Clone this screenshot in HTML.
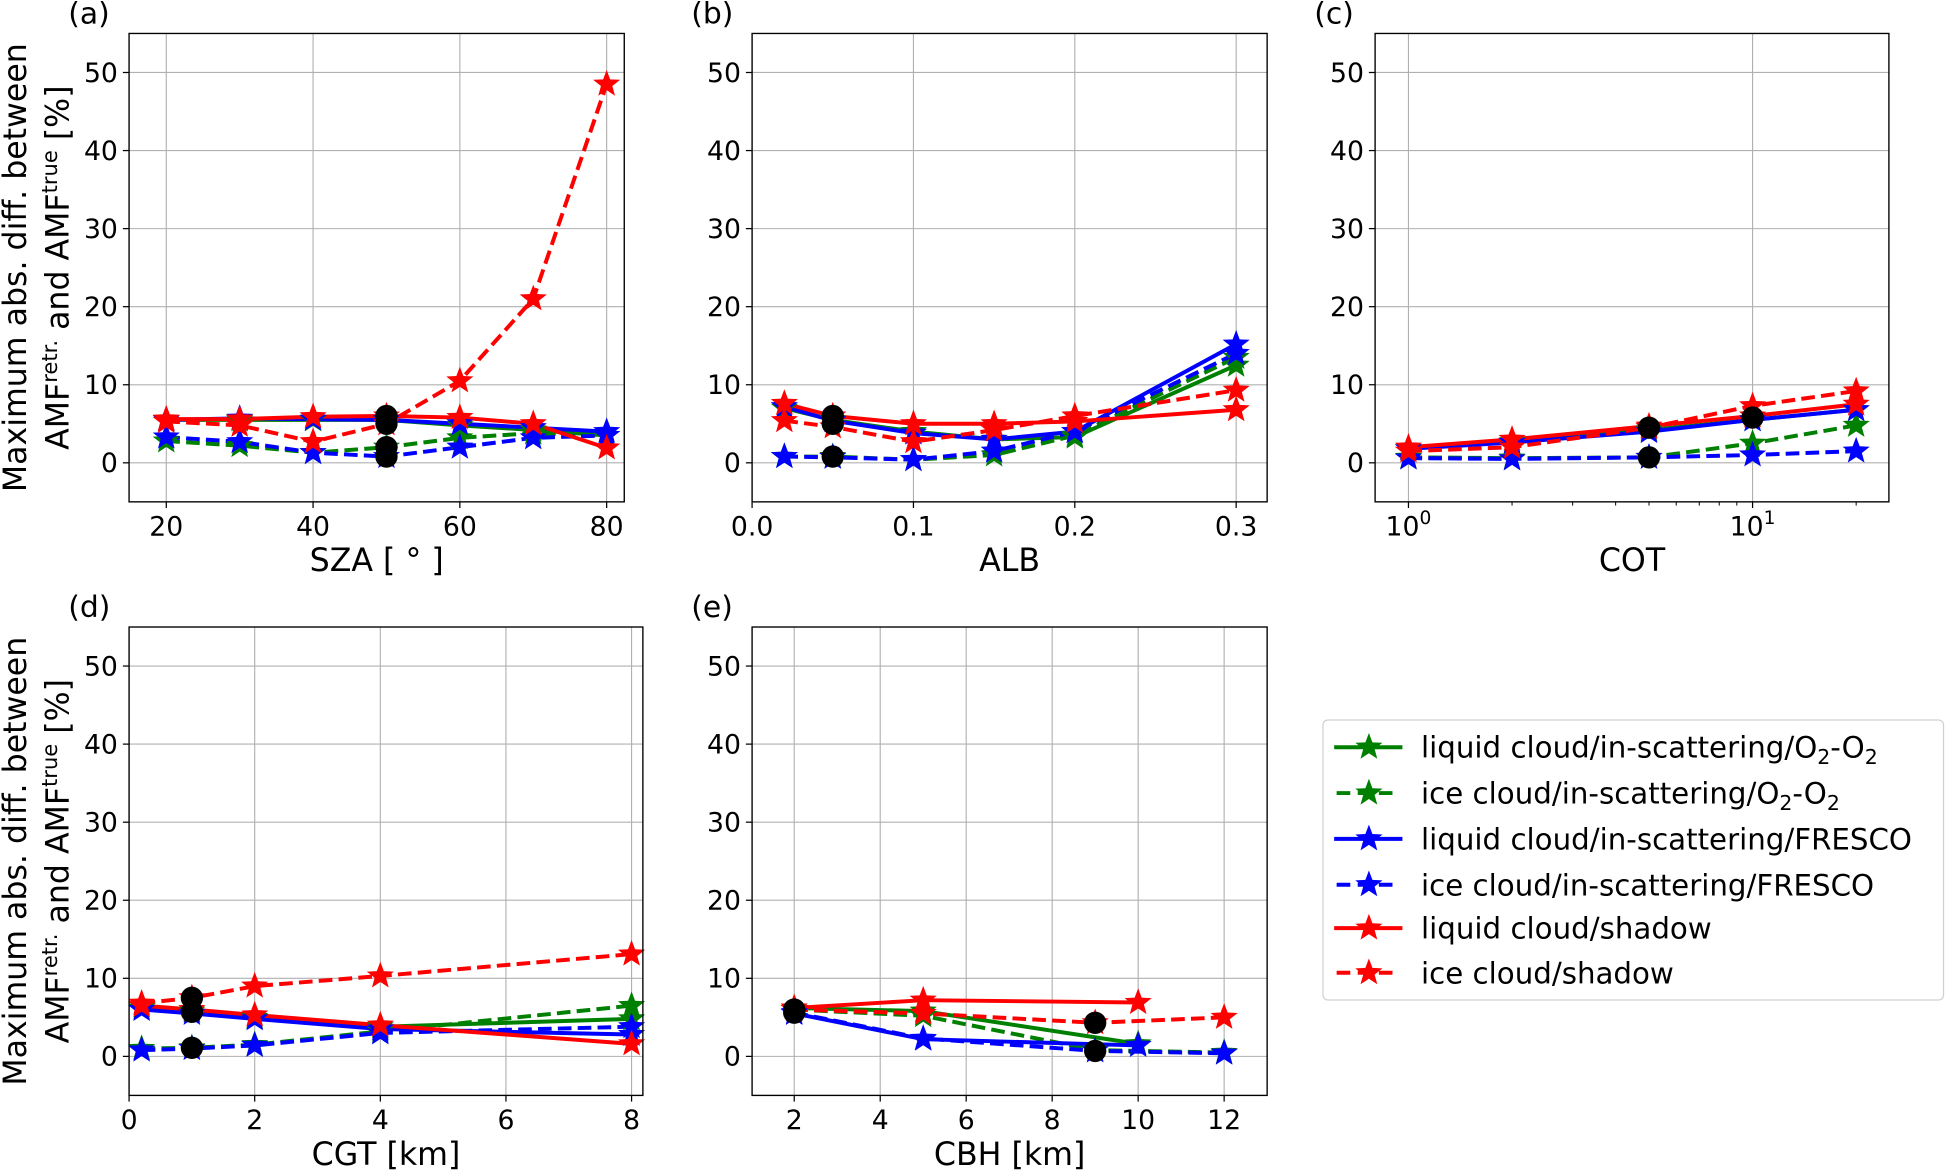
<!DOCTYPE html>
<html><head><meta charset="utf-8">
<style>
html,body{margin:0;padding:0;background:#fff;}
svg{display:block;font-family:"DejaVu Sans","Liberation Sans",sans-serif;}
</style></head>
<body>
<svg id="fig" width="1946" height="1171" viewBox="0 0 1568 945" preserveAspectRatio="none" xmlns="http://www.w3.org/2000/svg">
<rect width="1568" height="945" fill="#fff"/>
</svg>
<script>
// ---------- data ----------
const seriesNames = ["liquid cloud/in-scattering/O2-O2","ice cloud/in-scattering/O2-O2","liquid cloud/in-scattering/FRESCO","ice cloud/in-scattering/FRESCO","liquid cloud/shadow","ice cloud/shadow"];
const seriesColors = ["green","green","blue","blue","red","red"];
const seriesDashed = [false,true,false,true,false,true];

const szaX = [20,30,40,50,60,70,80];
const szaGreenSolid = [5.5,5.5,5.5,5.5,4.8,4.2,3.5];
const szaGreenDash = [2.8,2.2,1.3,2.0,3.2,3.8,3.5];
const szaBlueSolid = [5.5,5.7,5.6,5.5,5.0,4.5,4.0];
const szaBlueDash = [3.3,2.7,1.3,0.8,2.0,3.2,3.5];
const szaRedSolid = [5.6,5.6,5.9,6.0,5.8,5.0,1.9];
const szaRedDash = [5.3,4.8,2.7,5.0,10.5,21,48.5];
const szaRefX = [50,50,50,50];
const szaRefY = [6.0,5.0,2.0,0.8];

const albX = [0.02,0.05,0.1,0.15,0.2,0.3];
const albGreenSolid = [7.0,5.5,4.0,3.0,3.3,12.5];
const albGreenDash = [0.8,0.8,0.4,1.0,3.5,13.5];
const albBlueSolid = [7.2,5.4,3.8,3.0,4.0,15.2];
const albBlueDash = [0.8,0.7,0.4,1.5,4.0,14.0];
const albRedSolid = [7.6,6.0,5.0,5.0,5.3,6.8];
const albRedDash = [5.4,4.6,2.7,4.2,6.0,9.3];
const albRefX = [0.05,0.05,0.05];
const albRefY = [6.0,5.0,0.8];

const cotX = [1,2,5,10,20];
const cotGreenSolid = [1.8,2.7,4.2,5.5,6.8];
const cotGreenDash = [0.7,0.6,0.7,2.5,4.8];
const cotBlueSolid = [1.8,2.6,4.0,5.5,6.8];
const cotBlueDash = [0.6,0.5,0.7,1.0,1.5];
const cotRedSolid = [2.0,3.0,4.7,6.0,7.5];
const cotRedDash = [1.5,2.0,4.5,7.3,9.2];
const cotRefX = [5,5,10];
const cotRefY = [4.5,0.7,5.8];

const cgtX = [0.2,1,2,4,8];
const cgtGreenSolid = [6.2,5.8,5.0,3.8,4.8];
const cgtGreenDash = [1.0,1.1,1.5,3.2,6.5];
const cgtBlueSolid = [6.0,5.5,4.8,3.5,2.8];
const cgtBlueDash = [0.8,1.0,1.4,3.0,3.8];
const cgtRedSolid = [6.5,6.0,5.3,4.0,1.6];
const cgtRedDash = [6.8,7.5,9.0,10.3,13.1];
const cgtRefX = [1,1,1];
const cgtRefY = [7.5,5.7,1.1];

const cbhLiquidX = [2,5,10];
const cbhIceX = [2,5,9,12];
const cbhGreenSolid = [6.2,5.8,1.6];
const cbhGreenDash = [6.0,5.2,0.8,0.5];
const cbhBlueSolid = [5.5,2.2,1.4];
const cbhBlueDash = [5.6,2.3,0.7,0.4];
const cbhRedSolid = [6.2,7.2,6.9];
const cbhRedDash = [6.0,5.5,4.3,5.0];
const cbhRefX = [2,2,9,9];
const cbhRefY = [6.0,5.6,4.3,0.7];

const yTicks = [0,10,20,30,40,50];

// ---------- drawing ----------
const NS = "http://www.w3.org/2000/svg";
const svg = document.getElementById("fig");
function mk(tag, attrs, parent){
  const e = document.createElementNS(NS, tag);
  for (const k in attrs) e.setAttribute(k, attrs[k]);
  (parent||svg).appendChild(e);
  return e;
}
function starPts(cx, cy, r){
  const p=[];
  for(let i=0;i<10;i++){
    const a = -Math.PI/2 + i*Math.PI/5;
    const rr = i%2===0 ? r : r*0.42;
    p.push((cx+rr*Math.cos(a)).toFixed(2)+","+(cy+rr*Math.sin(a)).toFixed(2));
  }
  return p.join(" ");
}

function panel(cfg){
  const g = mk("g", {});
  
  
  const {x0,x1,y0,y1} = cfg;
  const ymin=-5, ymax=55;
  const sy = v => y1 - (v - ymin)/(ymax-ymin)*(y1-y0);
  const tx = cfg.log ? (v=>Math.log10(v)) : (v=>v);
  const sx = v => x0 + (tx(v) - tx(cfg.xmin))/(tx(cfg.xmax)-tx(cfg.xmin))*(x1-x0);
  cfg.xTicks.forEach((t,i)=>{
    const X = sx(t);
    const gl = mk("line",{x1:X,x2:X,y1:y0,y2:y1,stroke:"#b0b0b0","stroke-width":0.9},g);
    
    
    mk("line",{x1:X,x2:X,y1:y1,y2:y1+5,stroke:"#000","stroke-width":1},g);
    const tl = mk("text",{x:X,y:y1+27,"font-size":21.5,"text-anchor":"middle",fill:"#000"},g);
    
    
    if (cfg.log){
      tl.textContent = "10";
      const sup = mk("tspan",{dy:-9,"font-size":15},tl);
      sup.textContent = cfg.xLabels[i];
    } else tl.textContent = cfg.xLabels[i];
  });
  if (cfg.log){
    cfg.minor.forEach(t=>{
      const X=sx(t);
      mk("line",{x1:X,x2:X,y1:y1,y2:y1+3,stroke:"#000","stroke-width":0.8},g);
    });
  }
  yTicks.forEach(t=>{
    const Y = sy(t);
    const gl = mk("line",{x1:x0,x2:x1,y1:Y,y2:Y,stroke:"#b0b0b0","stroke-width":0.9},g);
    
    
    mk("line",{x1:x0-5,x2:x0,y1:Y,y2:Y,stroke:"#000","stroke-width":1},g);
    const tl = mk("text",{x:x0-9,y:Y+7.5,"font-size":21.5,"text-anchor":"end",fill:"#000"},g);
    
    
    tl.textContent = t;
  });
  cfg.series.forEach((s,i)=>{
    const xs = s.x, ys = s.y;
    const pts = xs.map((v,j)=>sx(v).toFixed(2)+","+sy(ys[j]).toFixed(2)).join(" ");
    const pl = mk("polyline",{points:pts,fill:"none",stroke:seriesColors[i],"stroke-width":3.2,"stroke-dasharray":seriesDashed[i]?"11,5":"none","stroke-linejoin":"round"},g);
    
    
  });
  cfg.series.forEach((s,i)=>{
    s.x.forEach((v,j)=>{
      const st = mk("polygon",{points:starPts(sx(v),sy(s.y[j]),11.5),fill:seriesColors[i]},g);
      
      
    });
  });
  cfg.refX.forEach((v,j)=>{
    const c = mk("circle",{cx:sx(v),cy:sy(cfg.refY[j]),r:9,fill:"#000"},g);
    
    
  });
  const fr = mk("rect",{x:x0,y:y0,width:x1-x0,height:y1-y0,fill:"none",stroke:"#000","stroke-width":1.1},g);
  
  
  const xl = mk("text",{x:(x0+x1)/2,y:y1+56,"font-size":25.5,"text-anchor":"middle",fill:"#000"},g);
  
  
  xl.textContent = cfg.xTitle;
  const pl = mk("text",{x:x0-49,y:y0-8,"font-size":24,fill:"#000"},g);
  
  
  pl.textContent = "("+cfg.id+")";
  if (cfg.ytitle){
    const cy=(y0+y1)/2;
    const t1 = mk("text",{x:0,y:0,"font-size":25.5,"text-anchor":"middle",fill:"#000",transform:`translate(21,${cy}) rotate(-90)`},g);
    
    
    t1.textContent = "Maximum abs. diff. between";
    const t2 = mk("text",{x:0,y:0,"font-size":25.5,"text-anchor":"middle",fill:"#000",transform:`translate(55,${cy}) rotate(-90)`},g);
    
    
    t2.appendChild(document.createTextNode("AMF"));
    const a = mk("tspan",{dy:-9,"font-size":17},t2); a.textContent="retr.";
    const b = mk("tspan",{dy:9},t2); b.textContent=" and AMF";
    const c = mk("tspan",{dy:-9,"font-size":17},t2); c.textContent="true";
    const d = mk("tspan",{dy:9},t2); d.textContent=" [%]";
  }
}

panel({id:"a",x0:104,x1:503,y0:27,y1:405,xmin:14.93,xmax:82.4,xTicks:[20,40,60,80],xLabels:["20","40","60","80"],xTitle:"SZA [ ° ]",ytitle:true,
  series:[{x:szaX,y:szaGreenSolid},{x:szaX,y:szaGreenDash},{x:szaX,y:szaBlueSolid},{x:szaX,y:szaBlueDash},{x:szaX,y:szaRedSolid},{x:szaX,y:szaRedDash}],refX:szaRefX,refY:szaRefY});
panel({id:"b",x0:606,x1:1021,y0:27,y1:405,xmin:0,xmax:0.3192,xTicks:[0,0.1,0.2,0.3],xLabels:["0.0","0.1","0.2","0.3"],xTitle:"ALB",
  series:[{x:albX,y:albGreenSolid},{x:albX,y:albGreenDash},{x:albX,y:albBlueSolid},{x:albX,y:albBlueDash},{x:albX,y:albRedSolid},{x:albX,y:albRedDash}],refX:albRefX,refY:albRefY});
panel({id:"c",x0:1108,x1:1522,y0:27,y1:405,log:true,xmin:0.8,xmax:24.9,xTicks:[1,10],xLabels:["0","1"],minor:[2,3,4,5,6,7,8,9,20],xTitle:"COT",
  series:[{x:cotX,y:cotGreenSolid},{x:cotX,y:cotGreenDash},{x:cotX,y:cotBlueSolid},{x:cotX,y:cotBlueDash},{x:cotX,y:cotRedSolid},{x:cotX,y:cotRedDash}],refX:cotRefX,refY:cotRefY});
panel({id:"d",x0:104,x1:518,y0:506,y1:884,xmin:0,xmax:8.18,xTicks:[0,2,4,6,8],xLabels:["0","2","4","6","8"],xTitle:"CGT [km]",ytitle:true,
  series:[{x:cgtX,y:cgtGreenSolid},{x:cgtX,y:cgtGreenDash},{x:cgtX,y:cgtBlueSolid},{x:cgtX,y:cgtBlueDash},{x:cgtX,y:cgtRedSolid},{x:cgtX,y:cgtRedDash}],refX:cgtRefX,refY:cgtRefY});
panel({id:"e",x0:606,x1:1021,y0:506,y1:884,xmin:1.02,xmax:13.0,xTicks:[2,4,6,8,10,12],xLabels:["2","4","6","8","10","12"],xTitle:"CBH [km]",
  series:[{x:cbhLiquidX,y:cbhGreenSolid},{x:cbhIceX,y:cbhGreenDash},{x:cbhLiquidX,y:cbhBlueSolid},{x:cbhIceX,y:cbhBlueDash},{x:cbhLiquidX,y:cbhRedSolid},{x:cbhIceX,y:cbhRedDash}],refX:cbhRefX,refY:cbhRefY});

// legend
const lg = mk("g",{});


mk("rect",{x:1066,y:581,width:500,height:226,rx:4,fill:"#fff",stroke:"#d0d0d0","stroke-width":1},lg);
const legY = [603,640,677,714,749,785];
seriesNames.forEach((n,i)=>{
  const e = mk("g",{},lg);
  
  
  const Y = legY[i];
  mk("line",{x1:seriesDashed[i]?1077:1075,x2:seriesDashed[i]?1127:1130,y1:Y,y2:Y,stroke:seriesColors[i],"stroke-width":3.2,"stroke-dasharray":seriesDashed[i]?"11,6":"none"},e);
  mk("polygon",{points:starPts(1103,Y,11.5),fill:seriesColors[i]},e);
  const t = mk("text",{x:1145,y:Y+8.5,"font-size":23.6,fill:"#000"},e);
  if (n.indexOf("O2-O2")>=0){
    t.appendChild(document.createTextNode(n.replace("O2-O2","O")));
    const s1=mk("tspan",{dy:5,"font-size":16.5},t); s1.textContent="2";
    const s2=mk("tspan",{dy:-5},t); s2.textContent="-O";
    const s3=mk("tspan",{dy:5,"font-size":16.5},t); s3.textContent="2";
  } else t.textContent = n;
});
</script>
</body></html>
